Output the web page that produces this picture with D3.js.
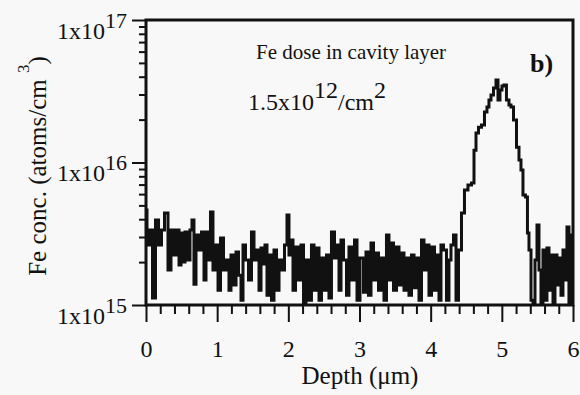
<!DOCTYPE html>
<html>
<head>
<meta charset="utf-8">
<script src="https://cdn.jsdelivr.net/npm/d3@7"></script>
<style>
  body { margin: 0; background: #f8f8f8; }
  svg { display: block; font-family: "Liberation Serif", "Times New Roman", serif; }
</style>
</head>
<body>
<svg></svg>
<script>
// depth in micrometres
var depth = [
  0.000, 0.028, 0.070, 0.112, 0.155, 0.197, 0.239, 0.281, 0.337, 0.365,
  0.407, 0.450, 0.478, 0.506, 0.534, 0.562, 0.604, 0.632, 0.660, 0.688,
  0.717, 0.759, 0.801, 0.829, 0.857, 0.885, 0.927, 0.955, 0.998, 1.026,
  1.068, 1.110, 1.152, 1.180, 1.208, 1.251, 1.279, 1.321, 1.349, 1.377,
  1.419, 1.461, 1.503, 1.532, 1.574, 1.602, 1.630, 1.658, 1.686, 1.714,
  1.742, 1.784, 1.813, 1.855, 1.883, 1.925, 1.967, 1.995, 2.023, 2.051,
  2.080, 2.122, 2.164, 2.192, 2.234, 2.262, 2.304, 2.346, 2.375, 2.417,
  2.445, 2.487, 2.515, 2.557, 2.585, 2.627, 2.670, 2.698, 2.726, 2.754,
  2.796, 2.838, 2.866, 2.909, 2.951, 2.979, 3.035, 3.077, 3.105, 3.147,
  3.176, 3.218, 3.246, 3.288, 3.330, 3.358, 3.400, 3.428, 3.456, 3.499,
  3.541, 3.569, 3.611, 3.639, 3.681, 3.709, 3.752, 3.780, 3.822, 3.850,
  3.892, 3.920, 3.962, 3.990, 4.033, 4.075, 4.103, 4.131, 4.159, 4.201,
  4.243, 4.271, 4.300, 4.342, 4.370, 4.412, 4.454, 4.496, 4.552, 4.595,
  4.623, 4.651, 4.693, 4.735, 4.777, 4.805, 4.833, 4.862, 4.904, 4.932,
  4.960, 4.988, 5.016, 5.044, 5.086, 5.114, 5.143, 5.185, 5.227, 5.255,
  5.283, 5.311, 5.353, 5.367, 5.396, 5.424, 5.452, 5.480, 5.508, 5.536,
  5.564, 5.592, 5.620, 5.648, 5.677, 5.705, 5.733, 5.761, 5.789, 5.817,
  5.845, 5.873, 5.901, 5.929, 5.957, 5.986
];

// Fe concentration, in units of 1e15 atoms/cm3
var conc = [
  4.64, 2.64, 3.36, 1.12, 3.95, 2.64, 3.36, 4.42, 1.76, 3.36,
  2.24, 3.36, 1.91, 3.20, 2.00, 3.25, 2.07, 3.36, 3.95, 1.40,
  3.10, 2.43, 3.25, 1.50, 3.25, 2.07, 4.49, 1.76, 2.64, 1.27,
  2.95, 1.76, 2.07, 1.27, 2.24, 1.38, 2.35, 1.62, 1.08, 2.64,
  2.07, 1.50, 3.25, 2.07, 2.43, 1.27, 2.51, 1.94, 2.64, 1.17,
  2.24, 1.08, 2.43, 1.27, 2.07, 1.76, 2.64, 4.28, 2.24, 2.86,
  1.27, 2.55, 1.50, 2.64, 1.00, 2.07, 1.08, 2.64, 1.27, 2.51,
  1.08, 2.14, 1.27, 2.24, 1.12, 3.25, 2.14, 2.64, 1.27, 2.86,
  2.07, 1.17, 2.55, 1.50, 2.86, 1.08, 2.14, 1.23, 2.35, 1.17,
  2.72, 1.50, 2.32, 1.27, 2.14, 1.08, 3.10, 1.50, 2.72, 1.27,
  2.55, 1.38, 2.32, 1.27, 2.14, 1.17, 2.24, 1.32, 2.14, 1.08,
  2.86, 1.76, 2.64, 1.17, 2.55, 1.27, 2.24, 1.08, 2.64, 2.43,
  1.08, 2.07, 2.64, 3.10, 1.08, 2.43, 4.42, 6.41, 6.95, 7.18,
  12.2, 16.1, 17.7, 18.3, 22.6, 24.5, 27.5, 29.8, 33.3, 37.9,
  27.5, 32.3, 34.4, 35.0, 27.5, 25.3, 24.5, 19.9, 12.8, 10.4,
  8.86, 5.91, 5.72, 3.20, 2.43, 1.08, 1.00, 2.07, 3.64, 1.76,
  1.00, 2.43, 1.08, 2.51, 1.27, 2.24, 1.00, 2.24, 1.38, 2.14,
  1.17, 2.43, 1.50, 3.53, 1.00, 3.10
];
var unit = 1e15;

var xTicks = [0, 1, 2, 3, 4, 5, 6];
var yTicks = [1e15, 1e16, 1e17];
var yExponents = ["15", "16", "17"];

var serif = '"Liberation Serif", "Times New Roman", serif';

var margin = {top: 20, right: 7, bottom: 90, left: 146},
    width = 580 - margin.left - margin.right,
    height = 395 - margin.top - margin.bottom;

var svg = d3.select("svg")
    .attr("width", 580)
    .attr("height", 395);

var g = svg.append("g")
    .attr("transform", "translate(" + margin.left + "," + margin.top + ")");

var x = d3.scaleLinear()
    .domain([0, 6])
    .range([0, width]);

var y = d3.scaleLog()
    .domain([1e15, 1e17])
    .range([height, 0])
    .clamp(true);

g.append("clipPath")
    .attr("id", "plot")
  .append("rect")
    .attr("width", width)
    .attr("height", height);

// data trace
var points = depth.map((d, i) => ({depth: d, conc: conc[i] * unit}));
var line = d3.line()
    .x(d => x(d.depth))
    .y(d => y(d.conc))
    .curve(d3.curveStep);

g.append("path")
    .datum(points)
    .attr("clip-path", "url(#plot)")
    .attr("fill", "none")
    .attr("stroke", "#111")
    .attr("stroke-width", 3)
    .attr("d", line);

// x axis, minor then major ticks
var xMinor = d3.range(1, 30).map(i => i * 0.2).filter(v => Math.abs(v - Math.round(v)) > 0.01);
g.append("g")
    .attr("transform", "translate(0," + height + ")")
    .call(d3.axisBottom(x).tickValues(xMinor).tickSize(9).tickFormat(""))
    .call(a => a.select(".domain").remove());

var xAxis = g.append("g")
    .attr("transform", "translate(0," + height + ")")
    .call(d3.axisBottom(x).tickValues(xTicks).tickSize(17).tickPadding(18).tickFormat(d3.format("d")))
    .call(a => a.select(".domain").remove())
    .attr("font-family", serif)
    .attr("font-size", 24);
xAxis.selectAll("text")
    .attr("font-family", serif)
    .attr("fill", "#111");

// y axis, minor then major ticks
var yMinor = [];
[1e15, 1e16].forEach(base => [2, 3, 4, 5, 6, 7, 8, 9].forEach(m => yMinor.push(m * base)));
g.append("g")
    .call(d3.axisLeft(y).tickValues(yMinor).tickSize(7).tickFormat(""))
    .call(a => a.select(".domain").remove());

var yAxis = g.append("g")
    .call(d3.axisLeft(y).tickValues(yTicks).tickSize(14).tickFormat(""))
    .call(a => a.select(".domain").remove())
    .attr("font-family", serif)
    .attr("font-size", 24);

g.selectAll(".tick line")
    .attr("stroke", "#111")
    .attr("stroke-width", 2);

// y tick labels like 1x10^15
yAxis.selectAll(".tick").each(function(d, i) {
  var t = d3.select(this).select("text")
      .attr("x", -19)
      .attr("dy", null)
      .attr("y", 18)
      .attr("text-anchor", "end")
      .attr("fill", "#111");
  t.append("tspan").text("1x10");
  t.append("tspan").attr("dy", -11).attr("font-size", 22).text(yExponents[i]);
});

// frame
g.append("rect")
    .attr("width", width)
    .attr("height", height)
    .attr("fill", "none")
    .attr("stroke", "#111")
    .attr("stroke-width", 3);

// axis titles
svg.append("text")
    .attr("x", 360)
    .attr("y", 384)
    .attr("text-anchor", "middle")
    .attr("font-size", 25)
    .attr("fill", "#111")
    .text("Depth (\u03bcm)");

var yTitle = svg.append("text")
    .attr("transform", "translate(46,166) rotate(-90)")
    .attr("text-anchor", "middle")
    .attr("font-size", 25)
    .attr("fill", "#111");
yTitle.append("tspan").text("Fe conc. (atoms/cm ");
yTitle.append("tspan").attr("dy", -17).attr("font-size", 17).text("3");
yTitle.append("tspan").attr("dy", 17).text(")");

// annotation
svg.append("text")
    .attr("x", 256)
    .attr("y", 59)
    .attr("font-size", 21)
    .attr("fill", "#111")
    .text("Fe dose in cavity layer");

var dose = svg.append("text")
    .attr("x", 248)
    .attr("y", 110)
    .attr("font-size", 24)
    .attr("fill", "#111");
dose.append("tspan").text("1.5x10");
dose.append("tspan").attr("dy", -12).text("12");
dose.append("tspan").attr("dy", 12).text("/cm");
dose.append("tspan").attr("dy", -12).text("2");

svg.append("text")
    .attr("x", 530)
    .attr("y", 72)
    .attr("font-size", 26)
    .attr("font-weight", "bold")
    .attr("fill", "#111")
    .text("b)");
</script>
</body>
</html>
